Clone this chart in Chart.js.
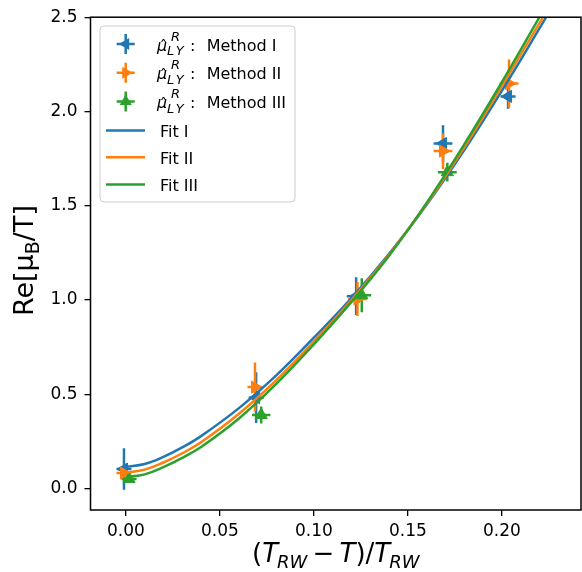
<!DOCTYPE html>
<html>
<head>
<meta charset="utf-8">
<script src="https://cdn.jsdelivr.net/npm/chart.js@4.4.0/dist/chart.umd.min.js"></script>
<style>
  html, body { margin: 0; padding: 0; background: #fff; }
  #wrap { width: 582px; height: 572px; }
</style>
</head>
<body>
<div id="wrap"><canvas id="chart" width="582" height="572"></canvas></div>
<script>
// ticks
const xTicks = [0, 0.05, 0.10, 0.15, 0.20];
const yTicks = [0, 0.5, 1.0, 1.5, 2.0, 2.5];

// Method I (blue, "<")
const xI = [-0.001, 0.0693, 0.1225, 0.1687, 0.2033];
const yI = [0.103, 0.482, 1.020, 1.830, 2.080];
const xErrI = [0.004, 0.004, 0.005, 0.005, 0.004];
const yErrI = [0.110, 0.135, 0.100, 0.097, 0.065];

// Method II (orange, ">")
const xII = [-0.001, 0.0687, 0.1232, 0.1687, 0.2038];
const yII = [0.082, 0.538, 1.005, 1.790, 2.148];
const xErrII = [0.004, 0.004, 0.005, 0.005, 0.005];
const yErrII = [0.020, 0.130, 0.090, 0.095, 0.128];

// Method III (green, "^")
const xIII = [0.0017, 0.0720, 0.1255, 0.1710];
const yIII = [0.050, 0.390, 1.025, 1.678];
const xErrIII = [0.004, 0.0049, 0.005, 0.005];
const yErrIII = [0.020, 0.045, 0.090, 0.050];

// fit curves
const fitXI = [0, 0.01, 0.02, 0.03, 0.04, 0.06, 0.08, 0.10, 0.12, 0.14, 0.16, 0.18, 0.20, 0.2236];
const fitYI = [0.115, 0.13, 0.168, 0.218, 0.278, 0.425, 0.60, 0.80, 1.01, 1.245, 1.505, 1.795, 2.11, 2.5];
const fitXII = [0, 0.01, 0.02, 0.03, 0.04, 0.06, 0.08, 0.10, 0.12, 0.14, 0.16, 0.18, 0.20, 0.2219];
const fitYII = [0.085, 0.10, 0.138, 0.187, 0.245, 0.395, 0.575, 0.78, 1.0, 1.24, 1.51, 1.81, 2.135, 2.5];
const fitXIII = [0, 0.01, 0.02, 0.03, 0.04, 0.06, 0.08, 0.10, 0.12, 0.14, 0.16, 0.18, 0.20, 0.2200];
const fitYIII = [0.06, 0.075, 0.113, 0.162, 0.22, 0.37, 0.555, 0.765, 0.99, 1.235, 1.515, 1.825, 2.155, 2.5];

const BLUE = "#1f77b4", ORANGE = "#ff7f0e", GREEN = "#2ca02c";
const FONT = '"DejaVu Sans", sans-serif';

const pts = (xs, ys) => xs.map((x, i) => ({ x: x, y: ys[i] }));

const series = [
    { xs: xI, ys: yI, xe: xErrI, ye: yErrI, color: BLUE, rot: -90 },
    { xs: xII, ys: yII, xe: xErrII, ye: yErrII, color: ORANGE, rot: 90 },
    { xs: xIII, ys: yIII, xe: xErrIII, ye: yErrIII, color: GREEN, rot: 0 }
];

function drawTri(ctx, x, y, r, rotDeg) {
    const rad = rotDeg * Math.PI / 180;
    ctx.beginPath();
    for (let k = 0; k < 3; k++) {
        const a = rad + k * 2 * Math.PI / 3;
        const px = x + Math.sin(a) * r, py = y - Math.cos(a) * r;
        if (k === 0) ctx.moveTo(px, py); else ctx.lineTo(px, py);
    }
    ctx.closePath();
    ctx.fill();
}

// draws a row of text pieces, returns the width
function drawPieces(ctx, pieces, x, base, measureOnly) {
    let cx = x;
    pieces.forEach(p => {
        ctx.font = p.f;
        if (!measureOnly) ctx.fillText(p.t, cx + (p.dx || 0), base + (p.dy || 0));
        cx += ctx.measureText(p.t).width + (p.dx || 0);
    });
    return cx - x;
}

const errorBars = {
    id: "errorBars",
    beforeDatasetsDraw(chart) {
        const ctx = chart.ctx, xs = chart.scales.x, ys = chart.scales.y, a = chart.chartArea;
        ctx.save();
        ctx.beginPath();
        ctx.rect(a.left, a.top, a.right - a.left, a.bottom - a.top);
        ctx.clip();
        ctx.lineWidth = 2.5;
        series.forEach(s => {
            ctx.strokeStyle = s.color;
            s.xs.forEach((xv, i) => {
                const px = xs.getPixelForValue(xv), py = ys.getPixelForValue(s.ys[i]);
                ctx.beginPath();
                ctx.moveTo(xs.getPixelForValue(xv - s.xe[i]), py);
                ctx.lineTo(xs.getPixelForValue(xv + s.xe[i]), py);
                ctx.moveTo(px, ys.getPixelForValue(s.ys[i] - s.ye[i]));
                ctx.lineTo(px, ys.getPixelForValue(s.ys[i] + s.ye[i]));
                ctx.stroke();
            });
        });
        ctx.restore();
    }
};

const frameAndText = {
    id: "frameAndText",
    afterDraw(chart) {
        const ctx = chart.ctx, a = chart.chartArea;
        ctx.save();
        // spines
        ctx.strokeStyle = "#000";
        ctx.lineWidth = 1.5;
        ctx.strokeRect(a.left, a.top, a.right - a.left, a.bottom - a.top);

        ctx.fillStyle = "#000";
        ctx.textBaseline = "alphabetic";
        ctx.textAlign = "left";

        // x title
        const big = "26px " + FONT, bigI = "italic 26px " + FONT, subI = "italic 18px " + FONT;
        const xt = [
            { t: "(", f: big }, { t: "T", f: bigI }, { t: "RW", f: subI, dy: 6, dx: -1 },
            { t: "\u2009\u2212\u2009", f: big }, { t: "T", f: bigI }, { t: ")/", f: big },
            { t: "T", f: bigI }, { t: "RW", f: subI, dy: 6, dx: -1 }
        ];
        const wx = drawPieces(ctx, xt, 0, 0, true);
        drawPieces(ctx, xt, (a.left + a.right) / 2 - wx / 2, 562);

        // y title
        const yBig = "27px " + FONT;
        const yt = [
            { t: "Re[", f: yBig }, { t: "\u03bc", f: yBig }, { t: "B", f: "19px " + FONT, dy: 6 },
            { t: "/T]", f: yBig }
        ];
        const wy = drawPieces(ctx, yt, 0, 0, true);
        ctx.save();
        ctx.translate(33, (a.top + a.bottom) / 2 - 3);
        ctx.rotate(-Math.PI / 2);
        drawPieces(ctx, yt, -wy / 2, 0);
        ctx.restore();

        // legend box
        const bx = 100, by = 26, bw = 195, bh = 176, r = 4;
        ctx.beginPath();
        ctx.moveTo(bx + r, by);
        ctx.arcTo(bx + bw, by, bx + bw, by + bh, r);
        ctx.arcTo(bx + bw, by + bh, bx, by + bh, r);
        ctx.arcTo(bx, by + bh, bx, by, r);
        ctx.arcTo(bx, by, bx + bw, by, r);
        ctx.closePath();
        ctx.fillStyle = "rgba(255,255,255,0.8)";
        ctx.fill();
        ctx.strokeStyle = "#cccccc";
        ctx.lineWidth = 1;
        ctx.stroke();

        const names = ["Method I", "Method II", "Method III"];
        const rowsM = [44, 72.7, 101.5];
        series.forEach((s, i) => {
            const y = rowsM[i], x = 125.7;
            ctx.strokeStyle = s.color;
            ctx.fillStyle = s.color;
            ctx.lineWidth = 2.5;
            ctx.beginPath();
            ctx.moveTo(x - 9, y); ctx.lineTo(x + 9, y);
            ctx.moveTo(x, y - 10); ctx.lineTo(x, y + 10);
            ctx.stroke();
            drawTri(ctx, x, y, 7, s.rot);

            ctx.fillStyle = "#000";
            const base = y + 6.7;
            ctx.font = "italic 16px " + FONT;
            ctx.fillText("\u03bc", 157, base);
            const wMu = ctx.measureText("\u03bc").width;
            ctx.font = "16px " + FONT;
            const wHat = ctx.measureText("\u02c6").width;
            ctx.fillText("\u02c6", 157 + wMu / 2 - wHat / 2 + 1.5, base + 1.5);
            ctx.font = "italic 13px " + FONT;
            ctx.fillText("R", 171, base - 10);
            ctx.fillText("L", 167, base + 4.3);
            ctx.fillText("Y", 167 + ctx.measureText("L").width + 1.5, base + 4.3);
            ctx.font = "16px " + FONT;
            ctx.fillText(":", 190, base);
            ctx.fillText(names[i], 206.7, base);
        });

        const fitNames = ["Fit I", "Fit II", "Fit III"];
        const rowsF = [130.5, 157.3, 184.5];
        series.forEach((s, i) => {
            const y = rowsF[i];
            ctx.strokeStyle = s.color;
            ctx.lineWidth = 2.5;
            ctx.beginPath();
            ctx.moveTo(106, y); ctx.lineTo(145, y);
            ctx.stroke();
            ctx.fillStyle = "#000";
            ctx.font = "16px " + FONT;
            ctx.fillText(fitNames[i], 160, y + 6.5);
        });
        ctx.restore();
    }
};

function pointSet(s, label, order) {
    return {
        label: label,
        data: pts(s.xs, s.ys),
        showLine: false,
        pointStyle: "triangle",
        pointRotation: s.rot,
        pointRadius: 7,
        pointBackgroundColor: s.color,
        pointBorderColor: s.color,
        pointBorderWidth: 1,
        order: order
    };
}

function fitSet(xs, ys, color, label, order) {
    return {
        label: label,
        data: pts(xs, ys),
        showLine: true,
        borderColor: color,
        borderWidth: 2.5,
        pointRadius: 0,
        fill: false,
        tension: 0.4,
        order: order
    };
}

const tickFont = { family: FONT, size: 17 };

new Chart(document.getElementById("chart").getContext("2d"), {
    type: "scatter",
    data: {
        datasets: [
            pointSet(series[0], "Method I", 6),
            pointSet(series[1], "Method II", 5),
            pointSet(series[2], "Method III", 4),
            fitSet(fitXI, fitYI, BLUE, "Fit I", 3),
            fitSet(fitXII, fitYII, ORANGE, "Fit II", 2),
            fitSet(fitXIII, fitYIII, GREEN, "Fit III", 1)
        ]
    },
    options: {
        responsive: false,
        animation: false,
        devicePixelRatio: 1,
        layout: { autoPadding: false, padding: { top: 17, right: 1, left: 0, bottom: 0 } },
        plugins: { legend: { display: false }, tooltip: { enabled: false } },
        scales: {
            x: {
                type: "linear",
                min: -0.0188,
                max: 0.2421,
                afterBuildTicks: s => { s.ticks = xTicks.map(v => ({ value: v })); },
                afterFit: s => { s.height = 62; },
                ticks: { callback: v => v.toFixed(2), font: tickFont, color: "#000", padding: 5, maxRotation: 0, autoSkip: false },
                grid: { drawOnChartArea: false, drawTicks: true, tickLength: 6, color: "#000", lineWidth: 1.3 },
                border: { display: false }
            },
            y: {
                type: "linear",
                min: -0.114,
                max: 2.5,
                afterBuildTicks: s => { s.ticks = yTicks.map(v => ({ value: v })); },
                afterFit: s => { s.width = 90.5; },
                ticks: { callback: v => v.toFixed(1), font: tickFont, color: "#000", padding: 7, autoSkip: false },
                grid: { drawOnChartArea: false, drawTicks: true, tickLength: 6, color: "#000", lineWidth: 1.3 },
                border: { display: false }
            }
        }
    },
    plugins: [errorBars, frameAndText]
});
</script>
</body>
</html>
